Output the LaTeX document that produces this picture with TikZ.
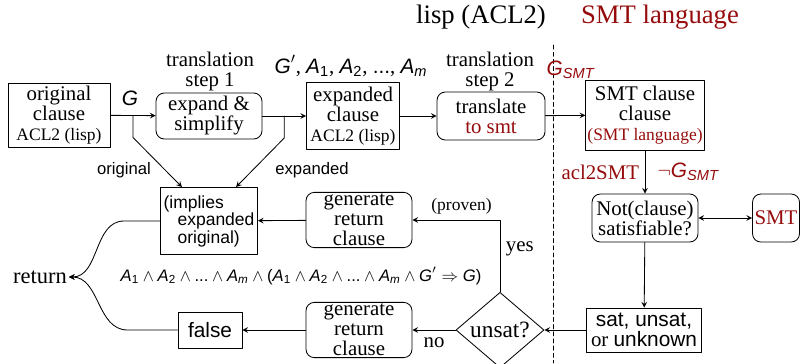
\documentclass[tikz,border=0pt]{standalone}
\usepackage{fontspec}
\setmainfont{Liberation Serif}
\setsansfont{Liberation Sans}
\usepackage{amsmath}
\usepackage{xcolor}
\usepackage{tikz}
\usetikzlibrary{calc}
\usetikzlibrary{arrows}
\usetikzlibrary{positioning}
\usetikzlibrary{shapes.geometric}
\definecolor{smtred}{RGB}{150,12,12}
\newcommand{\sv}[1]{\textsf{\textit{#1}}}
\newcommand{\boxfont}{\fontsize{12.5}{12}\selectfont}
\newcommand{\subfont}{\fontsize{10.5}{11}\selectfont}
\newcommand{\lblfont}{\fontsize{10}{12}\selectfont}
\newcommand{\titlefont}{\fontsize{16}{18}\selectfont}
\tikzset{
  sz/.style 2 args={minimum width=#1*0.6pt, minimum height=#2*0.6pt},
  clausebox/.style={draw, inner sep=1pt, align=center, font=\boxfont},
  stepbox/.style={draw, rounded corners=5pt, inner sep=1pt, align=center, font=\boxfont},
}

\begin{document}
\begin{tikzpicture}[x=0.6pt, y=-0.6pt, line cap=round, line join=round, >=stealth, line width=0.5pt]
  \useasboundingbox (0,0) rectangle (803,363);
  %--- Headings
    \node[font=\titlefont] (lisp) at (481,17) {lisp (ACL2)};
    \node[font=\titlefont, text=smtred] (smtlang) at (660,17) {SMT language};
    \coordinate (sepTop) at (553,45);
    \coordinate (sepBot) at (553,363);
    \draw[dash pattern=on 2.5pt off 1.8pt, line width=0.4pt] (sepTop) -- (sepBot);
  %--- Original clause
    \node[clausebox, sz={102}{64}] (orig) at (59,115) {original\\clause\\{\subfont ACL2 (lisp)}};
    \node[font=\boxfont] (glbl) at (130,98) {\sv{G}};
  %--- Step 1
    \node[stepbox, sz={106}{46}] (expand) at (209,116) {expand \&\\simplify};
    \node[font=\boxfont, align=center] (step1) at (210,71) {translation\\step 1};
    \draw[->] (orig) -- (expand);
  %--- Expanded clause
    \node[clausebox, sz={93}{67}] (expd) at (353,116) {expanded\\clause\\{\subfont ACL2 (lisp)}};
    \node[font=\boxfont] (gprime) at (351,66) {$\sv{G}'$, $\sv{A}_{\textsf{1}}$, $\sv{A}_{\textsf{2}}$, \textsf{...}, $\sv{A}_{\sv{m}}$};
    \draw[->] (expand) -- (expd);
  %--- Step 2
    \node[stepbox, sz={108}{48}] (transl) at (491,116) {translate\\\textcolor{smtred}{to smt}};
    \node[font=\boxfont, align=center] (step2) at (490,71) {translation\\step 2};
    \draw[->] (expd) -- (transl);
  %--- SMT clause
    \node[clausebox, sz={114}{70}] (smtc) at (645,115) {SMT clause\\clause\\{\subfont\textcolor{smtred}{(SMT language)}}};
    \node[font=\boxfont, text=smtred] (gsmt) at (571,70) {$\sv{G}_{\sv{SMT}}$};
    \draw[->] (transl) -- (smtc);
  %--- Not(clause) and the solver
    \node[stepbox, sz={106}{48}] (notc) at (645,218) {Not(clause)\\satisfiable?};
    \node[stepbox, sz={47}{48}, text=smtred] (smt) at (776,218) {SMT};
    \draw[->] (smtc) -- (notc)
      node[midway, left, font=\boxfont, text=smtred] {acl2SMT}
      node[midway, right, font=\boxfont, text=smtred, xshift=4pt] {$\neg\sv{G}_{\sv{SMT}}$};
    \draw[<->] (notc) -- (smt);
  %--- Result
    \node[clausebox, sz={115}{44}] (sat) at (644,330) {\textsf{sat, unsat,}\\or \textsf{unknown}};
    \draw[->] (notc) -- (sat);
    \node[draw, diamond, sz={88}{52}, inner sep=0pt, font=\fontsize{14}{14}\selectfont] (unsat) at (500,330) {unsat?};
    \draw[->] (sat) -- (unsat);
  %--- Proven
    \node[stepbox, sz={106}{54}] (gen1) at (359,220) {generate\\return\\clause};
    \draw[->] (unsat.north) |- (gen1.east)
      node[pos=0.3, right, font=\boxfont] {yes}
      node[pos=0.72, above, font=\subfont] {(proven)};
  %--- Not proven
    \node[stepbox, sz={106}{55}] (gen2) at (359,330) {generate\\return\\clause};
    \draw[->] (unsat) -- (gen2) node[midway, below, font=\boxfont, yshift=-1pt] {no};
  %--- Implies
    \node[clausebox, sz={97}{67}, font=\sffamily\fontsize{10.5}{10.5}\selectfont, align=left] (impl) at (209,221) {(implies\\\hspace*{0.8em}expanded\\\hspace*{0.8em}original)};
    \draw[->] (gen1) -- (impl);
    \coordinate (br1) at ($(orig.east)!0.5!(expand.west)$);
    \coordinate (br2) at ($(expand.east)!0.5!(expd.west)$);
    \draw[->] (br1) -- ++(0,22) -- ($(impl.north)+(-27,0)$);
    \draw[->] (br2) -- ++(0,22) -- ($(impl.north)+(27,0)$);
    \node[font=\sffamily\lblfont] (olbl) at (124,170) {original};
    \node[font=\sffamily\lblfont] (elbl) at (312,170) {expanded};
    \node[font=\lblfont] (formula) at (301,276) {$\sv{A}_{\textsf{1}} \wedge \sv{A}_{\textsf{2}} \wedge \textsf{...} \wedge \sv{A}_{\sv{m}} \wedge \textsf{(}\sv{A}_{\textsf{1}} \wedge \sv{A}_{\textsf{2}} \wedge \textsf{...} \wedge \sv{A}_{\sv{m}} \wedge \sv{G}' \Rightarrow \sv{G}\textsf{)}$};
  %--- False
    \node[clausebox, sz={64}{36}, font=\sffamily\boxfont] (fls) at (210,330) {false};
    \draw[->] (gen2) -- (fls);
  %--- Return
    \node[font=\fontsize{13.5}{14}\selectfont, inner sep=1pt] (ret) at (40,277) {return};
    \draw[->] (impl.west) -- ++(-36,0) to[out=180, in=0] (ret.east);
    \draw[->] (fls.west) -- ++(-50,0) to[out=180, in=0] (ret.east);
\end{tikzpicture}
\end{document}
